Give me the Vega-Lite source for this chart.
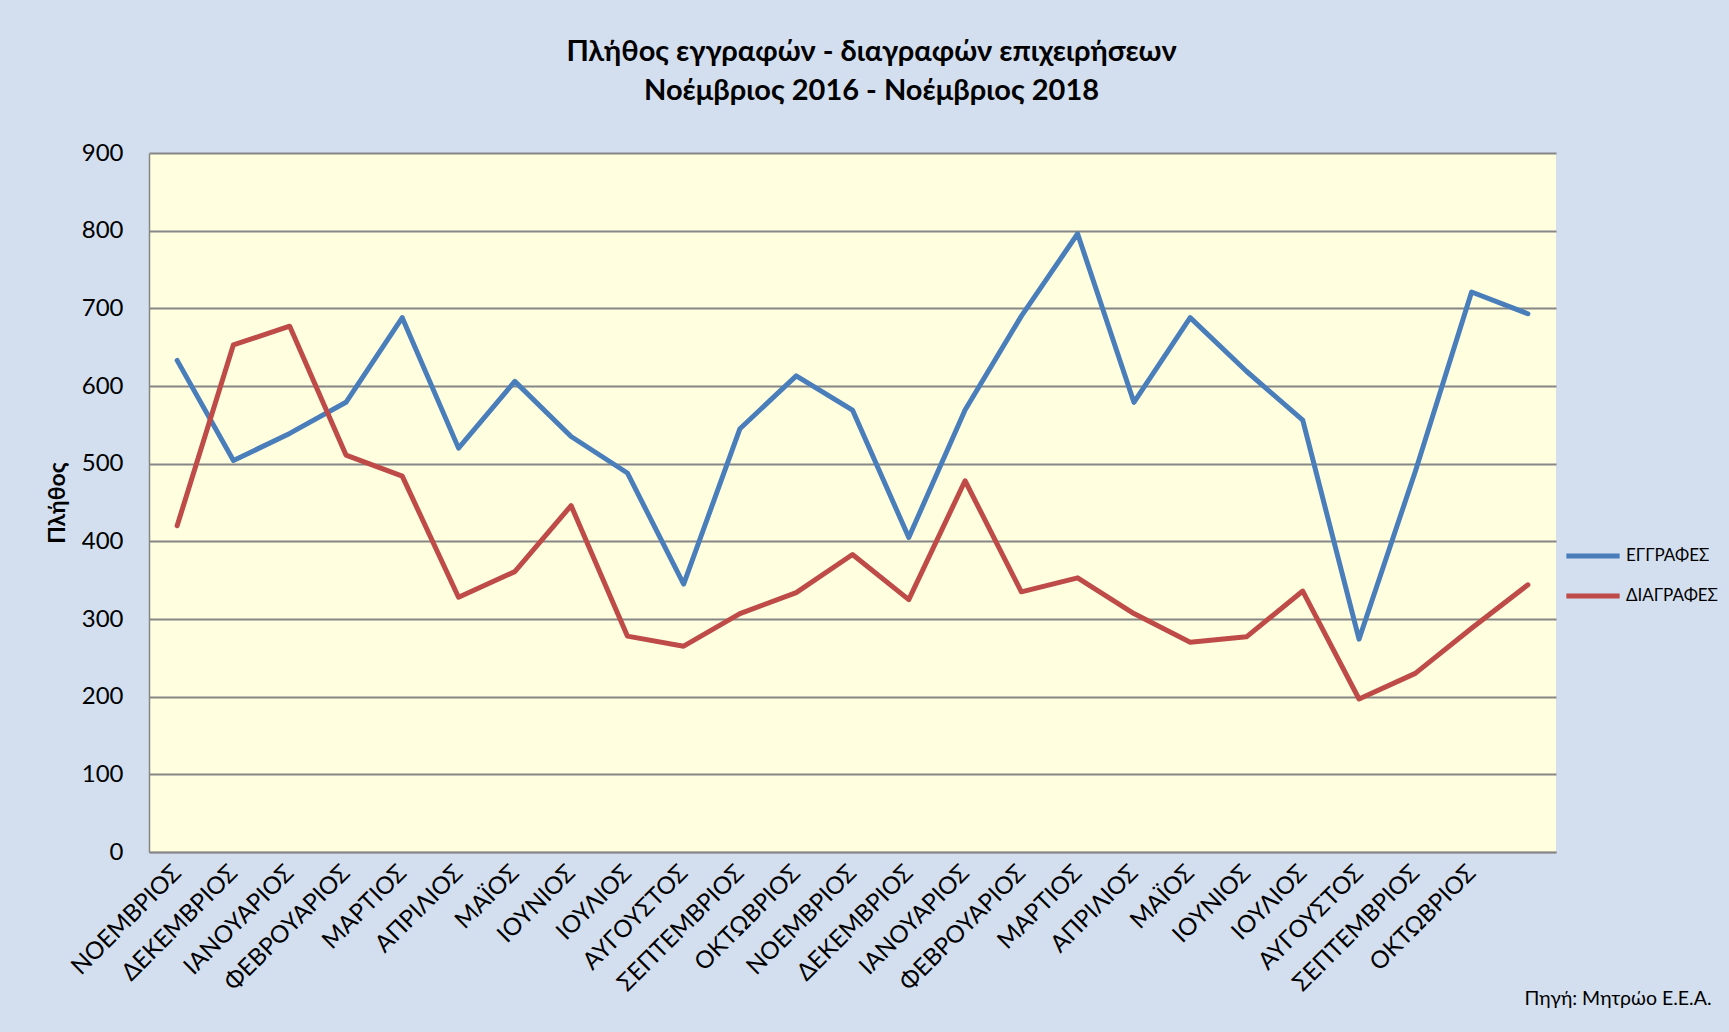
{
  "$schema": "https://vega.github.io/schema/vega-lite/v6.json",
  "width": 1407,
  "height": 699,
  "autosize": {"type": "none"},
  "padding": {"left": 149, "top": 153, "right": 173, "bottom": 180},
  "background": "#D3DFEE",
  "title": {
    "text": ["Πλήθος εγγραφών - διαγραφών επιχειρήσεων", "Νοέμβριος 2016 - Νοέμβριος 2018"],
    "font": "Lato, Noto Sans",
    "fontSize": 29,
    "fontWeight": "bold",
    "color": "#000000",
    "lineHeight": 39,
    "anchor": "middle",
    "frame": "group",
    "dx": 19,
    "offset": 35
  },
  "data": {
    "values": [
      {"period": "2016-11", "series": "ΕΓΓΡΑΦΕΣ", "value": 633},
      {"period": "2016-12", "series": "ΕΓΓΡΑΦΕΣ", "value": 504},
      {"period": "2017-01", "series": "ΕΓΓΡΑΦΕΣ", "value": 539},
      {"period": "2017-02", "series": "ΕΓΓΡΑΦΕΣ", "value": 579},
      {"period": "2017-03", "series": "ΕΓΓΡΑΦΕΣ", "value": 688},
      {"period": "2017-04", "series": "ΕΓΓΡΑΦΕΣ", "value": 520},
      {"period": "2017-05", "series": "ΕΓΓΡΑΦΕΣ", "value": 606},
      {"period": "2017-06", "series": "ΕΓΓΡΑΦΕΣ", "value": 535},
      {"period": "2017-07", "series": "ΕΓΓΡΑΦΕΣ", "value": 488},
      {"period": "2017-08", "series": "ΕΓΓΡΑΦΕΣ", "value": 345},
      {"period": "2017-09", "series": "ΕΓΓΡΑΦΕΣ", "value": 545},
      {"period": "2017-10", "series": "ΕΓΓΡΑΦΕΣ", "value": 613},
      {"period": "2017-11", "series": "ΕΓΓΡΑΦΕΣ", "value": 569},
      {"period": "2017-12", "series": "ΕΓΓΡΑΦΕΣ", "value": 405},
      {"period": "2018-01", "series": "ΕΓΓΡΑΦΕΣ", "value": 569},
      {"period": "2018-02", "series": "ΕΓΓΡΑΦΕΣ", "value": 690},
      {"period": "2018-03", "series": "ΕΓΓΡΑΦΕΣ", "value": 796},
      {"period": "2018-04", "series": "ΕΓΓΡΑΦΕΣ", "value": 579},
      {"period": "2018-05", "series": "ΕΓΓΡΑΦΕΣ", "value": 688},
      {"period": "2018-06", "series": "ΕΓΓΡΑΦΕΣ", "value": 619},
      {"period": "2018-07", "series": "ΕΓΓΡΑΦΕΣ", "value": 556},
      {"period": "2018-08", "series": "ΕΓΓΡΑΦΕΣ", "value": 274},
      {"period": "2018-09", "series": "ΕΓΓΡΑΦΕΣ", "value": 490},
      {"period": "2018-10", "series": "ΕΓΓΡΑΦΕΣ", "value": 721},
      {"period": "2018-11", "series": "ΕΓΓΡΑΦΕΣ", "value": 693},
      {"period": "2016-11", "series": "ΔΙΑΓΡΑΦΕΣ", "value": 420},
      {"period": "2016-12", "series": "ΔΙΑΓΡΑΦΕΣ", "value": 653},
      {"period": "2017-01", "series": "ΔΙΑΓΡΑΦΕΣ", "value": 677},
      {"period": "2017-02", "series": "ΔΙΑΓΡΑΦΕΣ", "value": 511},
      {"period": "2017-03", "series": "ΔΙΑΓΡΑΦΕΣ", "value": 484},
      {"period": "2017-04", "series": "ΔΙΑΓΡΑΦΕΣ", "value": 328},
      {"period": "2017-05", "series": "ΔΙΑΓΡΑΦΕΣ", "value": 361},
      {"period": "2017-06", "series": "ΔΙΑΓΡΑΦΕΣ", "value": 446},
      {"period": "2017-07", "series": "ΔΙΑΓΡΑΦΕΣ", "value": 278},
      {"period": "2017-08", "series": "ΔΙΑΓΡΑΦΕΣ", "value": 265},
      {"period": "2017-09", "series": "ΔΙΑΓΡΑΦΕΣ", "value": 307},
      {"period": "2017-10", "series": "ΔΙΑΓΡΑΦΕΣ", "value": 334},
      {"period": "2017-11", "series": "ΔΙΑΓΡΑΦΕΣ", "value": 383},
      {"period": "2017-12", "series": "ΔΙΑΓΡΑΦΕΣ", "value": 325},
      {"period": "2018-01", "series": "ΔΙΑΓΡΑΦΕΣ", "value": 478},
      {"period": "2018-02", "series": "ΔΙΑΓΡΑΦΕΣ", "value": 335},
      {"period": "2018-03", "series": "ΔΙΑΓΡΑΦΕΣ", "value": 353},
      {"period": "2018-04", "series": "ΔΙΑΓΡΑΦΕΣ", "value": 307},
      {"period": "2018-05", "series": "ΔΙΑΓΡΑΦΕΣ", "value": 270},
      {"period": "2018-06", "series": "ΔΙΑΓΡΑΦΕΣ", "value": 277},
      {"period": "2018-07", "series": "ΔΙΑΓΡΑΦΕΣ", "value": 336},
      {"period": "2018-08", "series": "ΔΙΑΓΡΑΦΕΣ", "value": 197},
      {"period": "2018-09", "series": "ΔΙΑΓΡΑΦΕΣ", "value": 230},
      {"period": "2018-10", "series": "ΔΙΑΓΡΑΦΕΣ", "value": 288},
      {"period": "2018-11", "series": "ΔΙΑΓΡΑΦΕΣ", "value": 344}
    ]
  },
  "mark": {"type": "line", "strokeWidth": 5, "strokeCap": "round", "strokeJoin": "round"},
  "encoding": {
    "x": {
      "field": "period",
      "type": "ordinal",
      "sort": "ascending",
      "scale": {"type": "point", "padding": 0.5},
      "axis": {
        "labelExpr": "datum.value == '2018-11' ? '' : ['ΙΑΝΟΥΑΡΙΟΣ','ΦΕΒΡΟΥΑΡΙΟΣ','ΜΑΡΤΙΟΣ','ΑΠΡΙΛΙΟΣ','ΜΑΪΟΣ','ΙΟΥΝΙΟΣ','ΙΟΥΛΙΟΣ','ΑΥΓΟΥΣΤΟΣ','ΣΕΠΤΕΜΒΡΙΟΣ','ΟΚΤΩΒΡΙΟΣ','ΝΟΕΜΒΡΙΟΣ','ΔΕΚΕΜΒΡΙΟΣ'][toNumber(substring(datum.value,5,7))-1]",
        "labelAngle": -45,
        "labelAlign": "right",
        "labelBaseline": "middle",
        "labelFont": "Lato, Noto Sans",
        "labelFontSize": 24,
        "labelColor": "#000000",
        "labelPadding": 17,
        "labelOverlap": false,
        "labelBound": false,
        "ticks": false,
        "tickSize": 0,
        "grid": false,
        "domainColor": "#868686",
        "domainWidth": 1.5,
        "title": "Πηγή: Μητρώο Ε.Ε.Α.",
        "titleFont": "Lato, Noto Sans",
        "titleFontSize": 19.5,
        "titleFontWeight": "normal",
        "titleColor": "#000000",
        "titleAnchor": "end",
        "titleAlign": "right",
        "titleBaseline": "middle",
        "titleX": 1562,
        "titleY": 146
      }
    },
    "y": {
      "field": "value",
      "type": "quantitative",
      "scale": {"domain": [0, 900], "nice": false, "zero": true},
      "axis": {
        "values": [0, 100, 200, 300, 400, 500, 600, 700, 800, 900],
        "labelFont": "Lato, Noto Sans",
        "labelFontSize": 24,
        "labelColor": "#000000",
        "labelPadding": 26,
        "ticks": false,
        "tickSize": 0,
        "grid": true,
        "gridColor": "#868686",
        "gridWidth": 1.8,
        "domainColor": "#868686",
        "domainWidth": 1.5,
        "title": "Πλήθος",
        "titleFont": "Lato, Noto Sans",
        "titleFontSize": 23,
        "titleFontWeight": "bold",
        "titleColor": "#000000",
        "titlePadding": 12
      }
    },
    "color": {
      "field": "series",
      "type": "nominal",
      "scale": {"domain": ["ΕΓΓΡΑΦΕΣ", "ΔΙΑΓΡΑΦΕΣ"], "range": ["#4A7EBB", "#BE4B48"]},
      "legend": {
        "title": null,
        "orient": "none",
        "legendX": 1421,
        "legendY": 380,
        "symbolType": "M-1.3,0H1.3",
        "symbolSize": 1681,
        "symbolStrokeWidth": 5,
        "labelOffset": 10,
        "rowPadding": 7,
        "labelFont": "Lato, Noto Sans",
        "labelFontSize": 17,
        "labelColor": "#000000",
        "padding": 0
      }
    }
  },
  "config": {
    "view": {"fill": "#FFFFE0", "stroke": null}
  }
}
